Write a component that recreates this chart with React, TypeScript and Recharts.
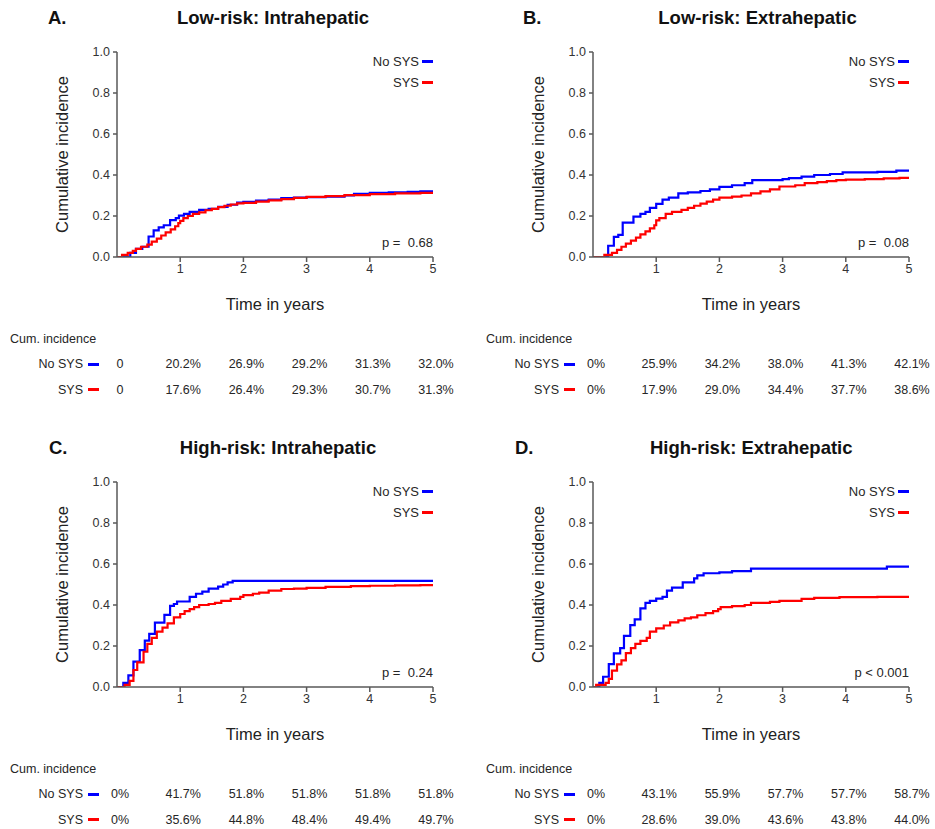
import React from 'react';
import { LineChart, Line, XAxis, YAxis } from 'recharts';

// ---------- Data (time in years, cumulative incidence) ----------
const A_NO_SYS: [number, number][] = [
  [0, 0], [0.21, 0.02], [0.3, 0.04], [0.4, 0.05], [0.5, 0.1], [0.58, 0.13], [0.66, 0.145],
  [0.74, 0.155], [0.84, 0.18], [0.93, 0.19], [0.98, 0.202], [1.06, 0.21], [1.15, 0.22],
  [1.3, 0.23], [1.45, 0.235], [1.6, 0.245], [1.75, 0.255], [1.9, 0.265], [2.0, 0.269],
  [2.2, 0.275], [2.4, 0.28], [2.6, 0.287], [2.8, 0.29], [3.0, 0.292], [3.3, 0.295],
  [3.6, 0.3], [3.75, 0.308], [4.0, 0.313], [4.3, 0.315], [4.6, 0.318], [4.8, 0.32], [5, 0.32],
];
const A_SYS: [number, number][] = [
  [0, 0], [0.08, 0.01], [0.17, 0.02], [0.25, 0.03], [0.3, 0.04], [0.38, 0.05], [0.48, 0.06],
  [0.55, 0.075], [0.63, 0.09], [0.7, 0.105], [0.77, 0.12], [0.85, 0.135], [0.92, 0.15],
  [0.97, 0.165], [1.0, 0.176], [1.05, 0.19], [1.12, 0.2], [1.2, 0.21], [1.3, 0.218],
  [1.4, 0.228], [1.5, 0.235], [1.6, 0.243], [1.7, 0.25], [1.8, 0.256], [1.9, 0.262],
  [2.0, 0.264], [2.2, 0.27], [2.4, 0.276], [2.6, 0.282], [2.8, 0.288], [3.0, 0.293],
  [3.3, 0.297], [3.6, 0.302], [4.0, 0.307], [4.4, 0.31], [4.8, 0.313], [5, 0.313],
];
const B_NO_SYS: [number, number][] = [
  [0, 0], [0.24, 0.055], [0.33, 0.098], [0.4, 0.108], [0.47, 0.168], [0.64, 0.197],
  [0.75, 0.21], [0.83, 0.22], [0.9, 0.24], [1.0, 0.259], [1.1, 0.28], [1.2, 0.29],
  [1.35, 0.31], [1.5, 0.315], [1.7, 0.322], [1.85, 0.33], [2.0, 0.342], [2.2, 0.35],
  [2.4, 0.36], [2.52, 0.375], [3.0, 0.38], [3.1, 0.385], [3.3, 0.392], [3.5, 0.4],
  [3.75, 0.405], [3.95, 0.413], [4.5, 0.415], [4.8, 0.421], [5, 0.421],
];
const B_SYS: [number, number][] = [
  [0, 0], [0.18, 0.01], [0.3, 0.02], [0.38, 0.035], [0.45, 0.05], [0.52, 0.065], [0.6, 0.08],
  [0.68, 0.095], [0.75, 0.11], [0.83, 0.125], [0.9, 0.14], [0.97, 0.155], [1.0, 0.179],
  [1.05, 0.19], [1.15, 0.21], [1.25, 0.22], [1.4, 0.23], [1.5, 0.24], [1.6, 0.25],
  [1.7, 0.26], [1.8, 0.27], [1.9, 0.28], [2.0, 0.29], [2.2, 0.295], [2.35, 0.3],
  [2.5, 0.31], [2.65, 0.32], [2.8, 0.33], [2.95, 0.344], [3.2, 0.35], [3.35, 0.36],
  [3.55, 0.365], [3.7, 0.37], [3.85, 0.375], [4.0, 0.377], [4.3, 0.38], [4.6, 0.384],
  [4.85, 0.386], [5, 0.386],
];
const C_NO_SYS: [number, number][] = [
  [0, 0], [0.1, 0.02], [0.18, 0.057], [0.26, 0.124], [0.36, 0.18], [0.44, 0.226],
  [0.51, 0.259], [0.6, 0.314], [0.75, 0.352], [0.84, 0.396], [0.9, 0.405], [0.95, 0.417],
  [1.15, 0.44], [1.25, 0.455], [1.35, 0.465], [1.45, 0.48], [1.6, 0.49], [1.68, 0.5],
  [1.75, 0.51], [1.83, 0.518], [5, 0.518],
];
const C_SYS: [number, number][] = [
  [0, 0], [0.12, 0.01], [0.2, 0.03], [0.26, 0.083], [0.32, 0.12], [0.42, 0.172],
  [0.48, 0.21], [0.55, 0.24], [0.63, 0.27], [0.72, 0.29], [0.8, 0.31], [0.9, 0.34],
  [1.0, 0.356], [1.07, 0.37], [1.15, 0.38], [1.22, 0.39], [1.3, 0.4], [1.45, 0.405],
  [1.55, 0.41], [1.65, 0.42], [1.8, 0.43], [1.95, 0.44], [2.0, 0.448], [2.15, 0.455],
  [2.25, 0.46], [2.4, 0.47], [2.6, 0.478], [2.8, 0.48], [3.0, 0.484], [3.3, 0.488],
  [3.7, 0.492], [4.0, 0.494], [4.4, 0.496], [4.8, 0.497], [5, 0.497],
];
const D_NO_SYS: [number, number][] = [
  [0, 0], [0.1, 0.02], [0.16, 0.05], [0.25, 0.112], [0.33, 0.164], [0.43, 0.19],
  [0.49, 0.249], [0.59, 0.302], [0.66, 0.33], [0.75, 0.384], [0.83, 0.41], [0.9, 0.42],
  [1.0, 0.431], [1.1, 0.44], [1.17, 0.47], [1.25, 0.485], [1.42, 0.51], [1.6, 0.53],
  [1.65, 0.545], [1.75, 0.555], [2.0, 0.559], [2.2, 0.565], [2.5, 0.577], [4.65, 0.587],
  [5, 0.587],
];
const D_SYS: [number, number][] = [
  [0, 0], [0.05, 0.01], [0.2, 0.02], [0.25, 0.04], [0.3, 0.08], [0.38, 0.11], [0.45, 0.13],
  [0.52, 0.165], [0.6, 0.19], [0.67, 0.21], [0.75, 0.225], [0.85, 0.24], [0.9, 0.27],
  [1.0, 0.286], [1.12, 0.3], [1.22, 0.315], [1.35, 0.325], [1.45, 0.335], [1.55, 0.34],
  [1.65, 0.35], [1.78, 0.36], [1.9, 0.37], [1.98, 0.38], [2.02, 0.39], [2.2, 0.395],
  [2.4, 0.4], [2.5, 0.41], [2.8, 0.415], [2.95, 0.42], [3.3, 0.43], [3.5, 0.435],
  [3.9, 0.438], [4.5, 0.44], [5, 0.44],
];

// ---------- Tables ----------
const TABLE_TIMES = [0, 1, 2, 3, 4, 5];
const A_TABLE_NO = ['0', '20.2%', '26.9%', '29.2%', '31.3%', '32.0%'];
const A_TABLE_SYS = ['0', '17.6%', '26.4%', '29.3%', '30.7%', '31.3%'];
const B_TABLE_NO = ['0%', '25.9%', '34.2%', '38.0%', '41.3%', '42.1%'];
const B_TABLE_SYS = ['0%', '17.9%', '29.0%', '34.4%', '37.7%', '38.6%'];
const C_TABLE_NO = ['0%', '41.7%', '51.8%', '51.8%', '51.8%', '51.8%'];
const C_TABLE_SYS = ['0%', '35.6%', '44.8%', '48.4%', '49.4%', '49.7%'];
const D_TABLE_NO = ['0%', '43.1%', '55.9%', '57.7%', '57.7%', '58.7%'];
const D_TABLE_SYS = ['0%', '28.6%', '39.0%', '43.6%', '43.8%', '44.0%'];

const X_TICKS = [1, 2, 3, 4, 5];
const Y_TICKS = [0, 0.2, 0.4, 0.6, 0.8, 1.0];
const SERIES_NAMES = ['No SYS', 'SYS'];
const SERIES_COLORS = ['#0000ff', '#ff0000'];

const FONT = '"Liberation Sans", Arial, Helvetica, sans-serif';

const toPts = (arr: [number, number][]) => arr.map(([t, v]) => ({ t, v }));

// chart geometry
const CW = 470;
const CH = 320;
const M = { top: 52, right: 37, left: 56, bottom: 33 };
const YW = 61;
const XH = 30;
const PLOT_L = M.left + YW; // 117
const PLOT_R = CW - M.right; // 433
const PLOT_T = M.top; // 52
const PLOT_B = CH - M.bottom - XH; // 257
const PX_PER_YEAR = (PLOT_R - PLOT_L) / 5;

type PanelProps = {
  left: number;
  top: number;
  letter: string;
  letterX: number;
  title: string;
  titleX: number;
  noSys: [number, number][];
  sys: [number, number][];
  pText: string;
  tableNo: string[];
  tableSys: string[];
};

const txt = (
  x: number,
  y: number,
  content: React.ReactNode,
  align: 'left' | 'center' | 'right',
  style: React.CSSProperties = {},
  key?: string
) => {
  const w = 200;
  let l = x;
  if (align === 'center') l = x - w / 2;
  if (align === 'right') l = x - w;
  return (
    <div
      key={key}
      style={{
        position: 'absolute',
        left: l,
        top: y - 10,
        width: w,
        height: 20,
        lineHeight: '20px',
        textAlign: align,
        whiteSpace: 'pre',
        fontFamily: FONT,
        fontSize: 13,
        color: '#262626',
        ...style,
      }}
    >
      {content}
    </div>
  );
};

const Swatch = ({ x, y, color }: { x: number; y: number; color: string }) => (
  <div
    style={{
      position: 'absolute',
      left: x,
      top: y - 1.5,
      width: 11,
      height: 3,
      background: color,
    }}
  />
);

const Panel = (p: PanelProps) => {
  const series = [toPts(p.noSys), toPts(p.sys)];
  const tables = [p.tableNo, p.tableSys];
  return (
    <div style={{ position: 'absolute', left: p.left, top: p.top, width: CW, height: 400 }}>
      {txt(p.letterX, 17.5, p.letter, 'left', { fontWeight: 'bold', fontSize: 18.5, color: '#111' })}
      {txt(p.titleX, 17.5, p.title, 'center', { fontWeight: 'bold', fontSize: 18.5, color: '#111' })}
      <div style={{ position: 'absolute', left: 0, top: 0 }}>
        <LineChart width={CW} height={CH} margin={M}>
          <XAxis
            type="number"
            dataKey="t"
            domain={[0, 5]}
            ticks={X_TICKS}
            allowDataOverflow
            height={XH}
            tickSize={5}
            tickMargin={2}
            stroke="#595959"
            strokeWidth={1.5}
            tick={{ fill: '#333', fontSize: 12.5, fontFamily: FONT }}
            label={{
              value: 'Time in years',
              position: 'bottom',
              offset: 11,
              style: { fill: '#222', fontSize: 16.5, fontFamily: FONT },
            }}
          />
          <YAxis
            type="number"
            domain={[0, 1]}
            ticks={Y_TICKS}
            allowDataOverflow
            width={YW}
            tickSize={4}
            tickMargin={3}
            stroke="#595959"
            strokeWidth={1.5}
            tickFormatter={(v: number) => v.toFixed(1)}
            tick={{ fill: '#333', fontSize: 12.5, fontFamily: FONT }}
            label={{
              value: 'Cumulative incidence',
              angle: -90,
              position: 'insideLeft',
              offset: 6,
              style: { textAnchor: 'middle', fill: '#222', fontSize: 16.5, fontFamily: FONT },
            }}
          />
          {series.map((d, i) => (
            <Line
              key={SERIES_NAMES[i]}
              data={d}
              dataKey="v"
              name={SERIES_NAMES[i]}
              type="stepAfter"
              stroke={SERIES_COLORS[i]}
              strokeWidth={2.2}
              dot={false}
              activeDot={false}
              isAnimationActive={false}
            />
          ))}
        </LineChart>
      </div>
      {/* legend */}
      {SERIES_NAMES.map((n, i) => (
        <React.Fragment key={'lg' + n}>
          {txt(PLOT_R - 14, PLOT_T + 9.5 + i * 21, n, 'right')}
          <Swatch x={PLOT_R - 11} y={PLOT_T + 9.5 + i * 21} color={SERIES_COLORS[i]} />
        </React.Fragment>
      ))}
      {txt(PLOT_R, PLOT_B - 14, p.pText, 'right')}
      {/* table */}
      {txt(PLOT_L - 107, PLOT_B + 82, 'Cum. incidence', 'left', { fontSize: 12.5 })}
      {SERIES_NAMES.map((n, i) => (
        <React.Fragment key={'tb' + n}>
          {txt(PLOT_L - 34, PLOT_B + 107 + i * 25.5, n, 'right', { fontSize: 12.5 })}
          <Swatch x={PLOT_L - 29} y={PLOT_B + 107 + i * 25.5} color={SERIES_COLORS[i]} />
          {TABLE_TIMES.map((t, j) =>
            txt(PLOT_L + t * PX_PER_YEAR + 3, PLOT_B + 107 + i * 25.5, tables[i][j], 'center', { fontSize: 12.5 }, 'c' + j)
          )}
        </React.Fragment>
      ))}
    </div>
  );
};

export default function App() {
  return (
    <div
      style={{
        position: 'absolute',
        left: 0,
        top: 0,
        width: 935,
        height: 829,
        background: '#fff',
        overflow: 'hidden',
      }}
    >
      <Panel
        left={0}
        top={0}
        letter="A."
        letterX={48}
        title="Low-risk: Intrahepatic"
        titleX={273}
        noSys={A_NO_SYS}
        sys={A_SYS}
        pText={'p =  0.68'}
        tableNo={A_TABLE_NO}
        tableSys={A_TABLE_SYS}
      />
      <Panel
        left={476}
        top={0}
        letter="B."
        letterX={47}
        title="Low-risk: Extrahepatic"
        titleX={281.5}
        noSys={B_NO_SYS}
        sys={B_SYS}
        pText={'p =  0.08'}
        tableNo={B_TABLE_NO}
        tableSys={B_TABLE_SYS}
      />
      <Panel
        left={0}
        top={430}
        letter="C."
        letterX={49}
        title="High-risk: Intrahepatic"
        titleX={278}
        noSys={C_NO_SYS}
        sys={C_SYS}
        pText={'p =  0.24'}
        tableNo={C_TABLE_NO}
        tableSys={C_TABLE_SYS}
      />
      <Panel
        left={476}
        top={430}
        letter="D."
        letterX={39}
        title="High-risk: Extrahepatic"
        titleX={274}
        noSys={D_NO_SYS}
        sys={D_SYS}
        pText={'p < 0.001'}
        tableNo={D_TABLE_NO}
        tableSys={D_TABLE_SYS}
      />
    </div>
  );
}
